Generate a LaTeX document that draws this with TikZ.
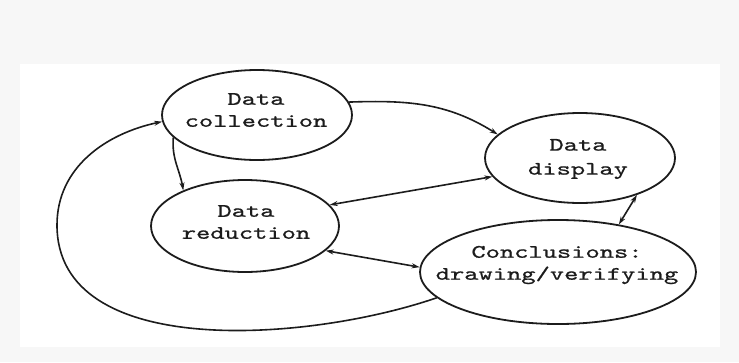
\documentclass[tikz,border=0pt]{standalone}
\usepackage{fontspec}
\newfontfamily\tfont{lmmono10-regular.otf}[FakeStretch=1.43,FakeBold=0.8]
\usetikzlibrary{arrows.meta,shapes.geometric}
\definecolor{ink}{RGB}{28,28,28}
\begin{document}
\begin{tikzpicture}[x=1pt,y=-1pt,
  ell/.style={draw=ink,line width=1.8pt,ellipse,inner sep=0pt},
  txt/.style={align=center,font=\tfont\fontsize{19}{22}\selectfont,text=ink,inner sep=0pt},
  conn/.style={draw=ink,line width=1.6pt},
  tip/.style={-{Stealth[length=8pt,width=5pt]}},
  tips/.style={{Stealth[length=8pt,width=5pt]}-{Stealth[length=8pt,width=5pt]}}]
\useasboundingbox (0,0) rectangle (739,362);
\fill[black!3] (0,0) rectangle (739,362);
\fill[white] (20,64) rectangle (720,347);
% ellipses
\node[ell,minimum width=190pt,minimum height=90pt] (col) at (257,115) {};
\node[ell,minimum width=190pt,minimum height=90pt] (disp) at (580,158) {};
\node[ell,minimum width=188pt,minimum height=92pt] (red) at (245,226) {};
\node[ell,minimum width=276pt,minimum height=104pt] (conc) at (558,272) {};
% texts
\node[txt] (colt) at (256,110) {Data\\collection};
\node[txt,font=\tfont\fontsize{19}{24}\selectfont] (dispt) at (578,159) {Data\\display};
\node[txt] (redt) at (246,222) {Data\\reduction};
\node[txt] (conct) at (557,265) {Conclusions:\\drawing/verifying};
% connectors
\coordinate (loopL) at (57,225);
\draw[conn,tip] (col.8) to[out=2,in=148] (disp.164);
\draw[conn,tip] (col.195) to[out=265,in=100] (red.150);
\draw[conn,tip] (conc.192) to[out=199,in=270,looseness=0.9] (loopL) to[out=90,in=192] (col.184);
\draw[conn,tips] (red.14) -- (disp.192);
\draw[conn,tips] (red.343) -- (conc.178);
\draw[conn,tips] (disp.327) -- (conc.38);
\end{tikzpicture}
\end{document}
